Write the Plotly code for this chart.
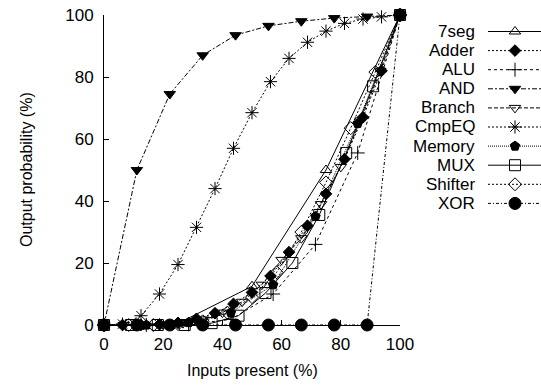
import plotly.graph_objects as go

# ---------------- data ----------------
names = ["7seg", "Adder", "ALU", "AND", "Branch", "CmpEQ", "Memory", "MUX", "Shifter", "XOR"]

seg7_x = [0, 25, 50, 75, 100]
seg7_y = [0, 0.5, 12.5, 50, 100]

adder_x = [0, 6.25, 12.5, 18.75, 25, 31.25, 37.5, 43.75, 50, 56.25, 62.5, 68.75, 75, 81.25, 87.5, 93.75, 100]
adder_y = [0, 0, 0, 0.2, 0.7, 2, 3.8, 6.8, 10.5, 15.8, 23.5, 32, 42.3, 53.5, 67, 82, 100]

alu_x = [0, 14.29, 28.57, 42.86, 57.14, 71.43, 85.71, 100]
alu_y = [0, 0, 0.2, 1.8, 10, 26, 55.5, 100]

and_x = [0, 11.11, 22.22, 33.33, 44.44, 55.56, 66.67, 77.78, 88.89, 100]
and_y = [0, 50, 74.5, 87, 93.5, 96.5, 98, 99, 99.5, 100]

branch_x = [0, 6.67, 13.33, 20, 26.67, 33.33, 40, 46.67, 53.33, 60, 66.67, 73.33, 80, 86.67, 93.33, 100]
branch_y = [0, 0, 0, 0.2, 0.6, 1.8, 4, 7.5, 13, 21, 28, 39, 51, 66, 82, 100]

cmpeq_x = [0, 6.25, 12.5, 18.75, 25, 31.25, 37.5, 43.75, 50, 56.25, 62.5, 68.75, 75, 81.25, 87.5, 93.75, 100]
cmpeq_y = [0, 0.3, 3, 10, 19.5, 31.5, 44, 57, 68.5, 78.5, 86, 91.2, 94.8, 97.3, 98.7, 99.4, 100]

memory_x = [0, 14.29, 28.57, 42.86, 57.14, 71.43, 85.71, 100]
memory_y = [0, 0, 0.8, 4, 13, 35, 65, 100]

mux_x = [0, 9.09, 18.18, 27.27, 36.36, 45.45, 54.55, 63.64, 72.73, 81.82, 90.91, 100]
mux_y = [0, 0, 0, 0, 0.6, 3, 10.3, 20, 35.5, 55.5, 77, 100]

shifter_x = [0, 8.33, 16.67, 25, 33.33, 41.67, 50, 58.33, 66.67, 75, 83.33, 91.67, 100]
shifter_y = [0, 0, 0, 0.3, 1.2, 4, 9, 17, 30, 46, 63.5, 81.6, 100]

xor_x = [0, 11.11, 22.22, 33.33, 44.44, 55.56, 66.67, 77.78, 88.89, 100]
xor_y = [0, 0, 0, 0, 0, 0, 0, 0, 0, 100]

xs = [seg7_x, adder_x, alu_x, and_x, branch_x, cmpeq_x, memory_x, mux_x, shifter_x, xor_x]
ys = [seg7_y, adder_y, alu_y, and_y, branch_y, cmpeq_y, memory_y, mux_y, shifter_y, xor_y]

x_ticks = [0, 20, 40, 60, 80, 100]
y_ticks = [0, 20, 40, 60, 80, 100]

# ---------------- styles ----------------
symbols = ["triangle-up-open", "diamond", "cross-thin-open", "triangle-down", "triangle-down-open",
           "asterisk-open", "pentagon", "square-open", "diamond-open", "circle"]
sizes = [10, 9, 10, 10, 10, 11, 10, 11, 10, 12]
dashes = ["solid", "2px,2px", "3px,3px", "5px,2px,2px,2px", "4px,2px", "2px,2px",
          "1px,1px", "solid", "2px,2px", "3px,2px,1px,2px"]

W, H = 541, 390
L, R, T, B = 104, 400, 15, 325
FONT = "Liberation Sans, Arial, Helvetica, sans-serif"

fig = go.Figure()

for i, n in enumerate(names):
    fig.add_trace(go.Scatter(
        x=xs[i], y=ys[i], mode="lines+markers", name=n, showlegend=False,
        cliponaxis=False,
        line=dict(color="black", width=1, dash=dashes[i]),
        marker=dict(symbol=symbols[i], size=sizes[i], color="black",
                    line=dict(color="black", width=1)),
        xaxis="x", yaxis="y",
    ))

# manual legend (pixel-coordinate overlay axes)
leg_y0, leg_dy = 31.5, 19.1
leg_x0, leg_x1, leg_xm, lab_x = 488, 541, 515, 477
for i, n in enumerate(names):
    yy = leg_y0 + i * leg_dy
    fig.add_trace(go.Scatter(
        x=[leg_x0, leg_x1], y=[yy, yy], mode="lines", showlegend=False, cliponaxis=False,
        line=dict(color="black", width=1, dash=dashes[i]), xaxis="x2", yaxis="y2", hoverinfo="skip"))
    fig.add_trace(go.Scatter(
        x=[leg_xm], y=[yy], mode="markers", showlegend=False, cliponaxis=False,
        marker=dict(symbol=symbols[i], size=sizes[i], color="black", line=dict(color="black", width=1)),
        xaxis="x2", yaxis="y2", hoverinfo="skip"))
    fig.add_annotation(x=lab_x / W, y=1 - yy / H, xref="paper", yref="paper", text=n,
                       showarrow=False, xanchor="right", yanchor="middle",
                       font=dict(family=FONT, size=17, color="black"))

fig.add_annotation(x=(L + R) / 2 / W, y=1 - 370 / H, xref="paper", yref="paper",
                   text="Inputs present (%)", showarrow=False, xanchor="center", yanchor="middle",
                   font=dict(family=FONT, size=16, color="black"))
fig.add_annotation(x=26 / W, y=1 - 170 / H, xref="paper", yref="paper",
                   text="Output probability (%)", showarrow=False, textangle=-90,
                   xanchor="center", yanchor="middle",
                   font=dict(family=FONT, size=16, color="black"))

fig.update_layout(
    width=W, height=H, margin=dict(l=0, r=0, t=0, b=0),
    paper_bgcolor="white", plot_bgcolor="rgba(0,0,0,0)",
    font=dict(family=FONT, size=17, color="black"),
    xaxis=dict(domain=[L / W, R / W], range=[0, 100], tickvals=x_ticks, ticks="inside", ticklen=5,
               tickcolor="black", showline=True, linecolor="black", linewidth=1, showgrid=False,
               zeroline=False, automargin=False, tickfont=dict(size=17), ticklabelstandoff=4,
               ticklabeloverflow="allow"),
    yaxis=dict(domain=[1 - B / H, 1 - T / H], range=[0, 100], tickvals=y_ticks, ticks="inside", ticklen=5,
               tickcolor="black", showline=True, linecolor="black", linewidth=1, showgrid=False,
               zeroline=False, automargin=False, tickfont=dict(size=17), ticklabelstandoff=6,
               ticklabeloverflow="allow"),
    xaxis2=dict(domain=[0, 1], range=[0, W], visible=False, anchor="y2"),
    yaxis2=dict(domain=[0, 1], range=[H, 0], visible=False, anchor="x2"),
)

fig.write_html("out.html", config={"displayModeBar": False},
               post_script="document.body.style.margin='0';document.body.style.overflow='hidden';")
